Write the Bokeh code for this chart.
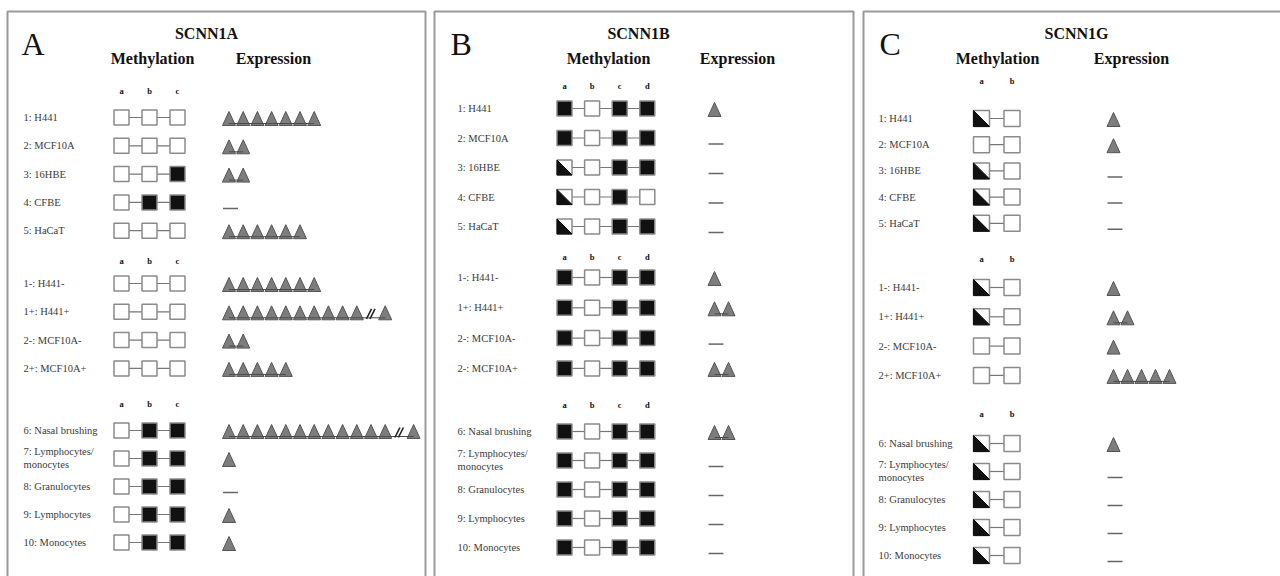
from bokeh.plotting import figure
from bokeh.models import Range1d
from bokeh.core.properties import value
from bokeh.embed import file_html
from bokeh.resources import INLINE

# ---------------- data ----------------
genes = ["SCNN1A", "SCNN1B", "SCNN1G"]
panel_letters = ["A", "B", "C"]
sites_A = ["a", "b", "c"]
sites_B = ["a", "b", "c", "d"]
sites_C = ["a", "b"]

labels_A = ["1: H441", "2: MCF10A", "3: 16HBE", "4: CFBE", "5: HaCaT",
            "1-: H441-", "1+: H441+", "2-: MCF10A-", "2+: MCF10A+",
            "6: Nasal brushing", "7: Lymphocytes/\nmonocytes", "8: Granulocytes",
            "9: Lymphocytes", "10: Monocytes"]
labels_B = ["1: H441", "2: MCF10A", "3: 16HBE", "4: CFBE", "5: HaCaT",
            "1-: H441-", "1+: H441+", "2-: MCF10A-", "2-: MCF10A+",
            "6: Nasal brushing", "7: Lymphocytes/\nmonocytes", "8: Granulocytes",
            "9: Lymphocytes", "10: Monocytes"]
labels_C = labels_A

# rows per block: cell lines, treated cell lines, primary cells
block_sizes = [5, 4, 5]

# methylation per CpG site: 0 = unmethylated, 0.5 = partially methylated, 1 = methylated
meth_A = [[0, 0, 0], [0, 0, 0], [0, 0, 1], [0, 1, 1], [0, 0, 0],
          [0, 0, 0], [0, 0, 0], [0, 0, 0], [0, 0, 0],
          [0, 1, 1], [0, 1, 1], [0, 1, 1], [0, 1, 1], [0, 1, 1]]
meth_B = [[1, 0, 1, 1], [1, 0, 1, 1], [0.5, 0, 1, 1], [0.5, 0, 1, 0], [0.5, 0, 1, 1],
          [1, 0, 1, 1], [1, 0, 1, 1], [1, 0, 1, 1], [1, 0, 1, 1],
          [1, 0, 1, 1], [1, 0, 1, 1], [1, 0, 1, 1], [1, 0, 1, 1], [1, 0, 1, 1]]
meth_C = [[0.5, 0], [0, 0], [0.5, 0], [0.5, 0], [0.5, 0],
          [0.5, 0], [0.5, 0], [0, 0], [0, 0],
          [0.5, 0], [0.5, 0], [0.5, 0], [0.5, 0], [0.5, 0]]

# relative expression level (number of triangles); scale break before the last one
expr_A = [7, 2, 2, 0, 6, 7, 11, 2, 5, 13, 1, 0, 1, 1]
expr_B = [1, 0, 0, 0, 0, 1, 2, 0, 2, 2, 0, 0, 0, 0]
expr_C = [1, 1, 0, 0, 0, 1, 2, 1, 5, 1, 0, 0, 0, 0]
break_A = [0, 0, 0, 0, 0, 0, 1, 0, 0, 1, 0, 0, 0, 0]
break_B = [0] * 14
break_C = [0] * 14

# ---------------- layout ----------------
panels = [
    dict(gene=genes[0], letter=panel_letters[0], sites=sites_A, labels=labels_A,
         meth=meth_A, expr=expr_A, brk=break_A,
         left=7, right=425, letter_x=21, title_x=206, meth_x=152, expr_x=273,
         label_x=23, site_x0=121, site_dx=28, sq=15, tri_x0=228.5, tri_dx=14.2,
         site_y=[90, 260, 403], row_y0=[117, 283, 430], row_dy=[28.3, 28.3, 28.0]),
    dict(gene=genes[1], letter=panel_letters[1], sites=sites_B, labels=labels_B,
         meth=meth_B, expr=expr_B, brk=break_B,
         left=434, right=853, letter_x=450, title_x=638, meth_x=608, expr_x=737,
         label_x=457, site_x0=564, site_dx=27.6, sq=15, tri_x0=714, tri_dx=14,
         site_y=[85, 256, 404], row_y0=[108, 277, 431], row_dy=[29.5, 30.3, 29.0]),
    dict(gene=genes[2], letter=panel_letters[2], sites=sites_C, labels=labels_C,
         meth=meth_C, expr=expr_C, brk=break_C,
         left=863, right=1295, letter_x=879, title_x=1076, meth_x=997, expr_x=1131,
         label_x=878, site_x0=981, site_dx=30.5, sq=16, tri_x0=1113, tri_dx=14,
         site_y=[80, 258, 413], row_y0=[118, 287, 443], row_dy=[26.2, 29.3, 28.0]),
]

SERIF = value("Liberation Serif")
GREY_LINE = "#8a8a8a"
TRI_FILL = "#7d7d7d"
TRI_EDGE = "#555555"

p = figure(width=1280, height=576, x_range=Range1d(0, 1280), y_range=Range1d(576, 0),
           output_backend="svg", toolbar_location=None,
           x_axis_type=None, y_axis_type=None, min_border=0)
p.outline_line_color = None
p.background_fill_color = "white"
p.border_fill_color = "white"

for pn in panels:
    # frame
    p.quad(left=[pn["left"]], right=[pn["right"]], top=[11], bottom=[600],
           fill_color=None, line_color="#9a9a9a", line_width=2)

    # headings
    p.text(x=[pn["letter_x"]], y=[43], text=[pn["letter"]], text_font=SERIF,
           text_font_size="32px", text_align="left", text_baseline="middle",
           text_color="#111111")
    p.text(x=[pn["title_x"]], y=[33], text=[pn["gene"]], text_font=SERIF,
           text_font_size="16px", text_font_style="bold", text_align="center",
           text_baseline="middle", text_color="#111111")
    p.text(x=[pn["meth_x"], pn["expr_x"]], y=[58, 58], text=["Methylation", "Expression"],
           text_font=SERIF, text_font_size="16px", text_font_style="bold",
           text_align="center", text_baseline="middle", text_color="#111111")

    nsite = len(pn["sites"])
    site_xs = [pn["site_x0"] + k * pn["site_dx"] for k in range(nsite)]
    h = pn["sq"] / 2.0

    # row positions
    row_ys = []
    for b, n in enumerate(block_sizes):
        row_ys += [pn["row_y0"][b] + j * pn["row_dy"][b] for j in range(n)]
        # site letters above each block
        p.text(x=site_xs, y=[pn["site_y"][b]] * nsite, text=pn["sites"], text_font=SERIF,
               text_font_size="8.5px", text_font_style="bold", text_align="center",
               text_baseline="middle", text_color="#111111")

    # row labels
    lx, ly, lt = [], [], []
    for lab, y in zip(pn["labels"], row_ys):
        parts = lab.split("\n")
        if len(parts) == 1:
            lx.append(pn["label_x"]); ly.append(y); lt.append(lab)
        else:
            lx += [pn["label_x"]] * 2; ly += [y - 7, y + 6]; lt += parts
    p.text(x=lx, y=ly, text=lt, text_font=SERIF, text_font_size="10.5px",
           text_align="left", text_baseline="middle", text_color="#3a3a3a")

    # methylation: connectors, squares, partial fills
    sx0, sx1, sy = [], [], []
    rx, ry, rfill = [], [], []
    px, py = [], []
    for states, y in zip(pn["meth"], row_ys):
        for k in range(nsite - 1):
            sx0.append(site_xs[k] + h); sx1.append(site_xs[k + 1] - h); sy.append(y)
        for k, s in enumerate(states):
            rx.append(site_xs[k]); ry.append(y)
            rfill.append("#111111" if s == 1 else "white")
            if s == 0.5:
                x = site_xs[k]
                px.append([x - h, x - h, x + h]); py.append([y - h, y + h, y + h])
    p.segment(x0=sx0, y0=sy, x1=sx1, y1=sy, line_color="#777777", line_width=1.2)
    p.rect(x=rx, y=ry, width=pn["sq"], height=pn["sq"], fill_color=rfill,
           line_color=GREY_LINE, line_width=1.5)
    if px:
        p.patches(xs=px, ys=py, fill_color="#111111", line_color="#111111", line_width=1)

    # expression: triangles, joining line, scale break, or a dash for none
    txs, tys = [], []
    lx0, lx1, lyy = [], [], []
    bx0, by0, bx1, by1 = [], [], [], []
    dx0, dx1, dy = [], [], []
    tw, th = 13.0, 14.0
    for n, brk, y in zip(pn["expr"], pn["brk"], row_ys):
        ty = y + 1
        if n == 0:
            x0 = pn["tri_x0"] - 6
            dx0.append(x0); dx1.append(x0 + 15); dy.append(y + 6)
            continue
        slots = list(range(n - 1)) + [n] if brk else list(range(n))
        cs = [pn["tri_x0"] + s * pn["tri_dx"] for s in slots]
        for c in cs:
            txs.append([c - tw / 2, c + tw / 2, c])
            tys.append([ty + th / 2, ty + th / 2, ty - th / 2])
        if n > 1:
            lx0.append(cs[0]); lx1.append(cs[-1]); lyy.append(ty + 5)
        if brk:
            bc = pn["tri_x0"] + (n - 1) * pn["tri_dx"]
            for off in (-2.0, 1.5):
                bx0.append(bc + off - 2.5); by0.append(ty + 6)
                bx1.append(bc + off + 2.5); by1.append(ty - 4)
    if txs:
        p.patches(xs=txs, ys=tys, fill_color=TRI_FILL, line_color=TRI_EDGE, line_width=1)
    if lx0:
        p.segment(x0=lx0, y0=lyy, x1=lx1, y1=lyy, line_color="#4a4a4a", line_width=1)
    if bx0:
        p.segment(x0=bx0, y0=by0, x1=bx1, y1=by1, line_color="#222222", line_width=1.6)
    if dx0:
        p.segment(x0=dx0, y0=dy, x1=dx1, y1=dy, line_color="#666666", line_width=1.5)

open("out.html", "w").write(file_html(p, INLINE))
